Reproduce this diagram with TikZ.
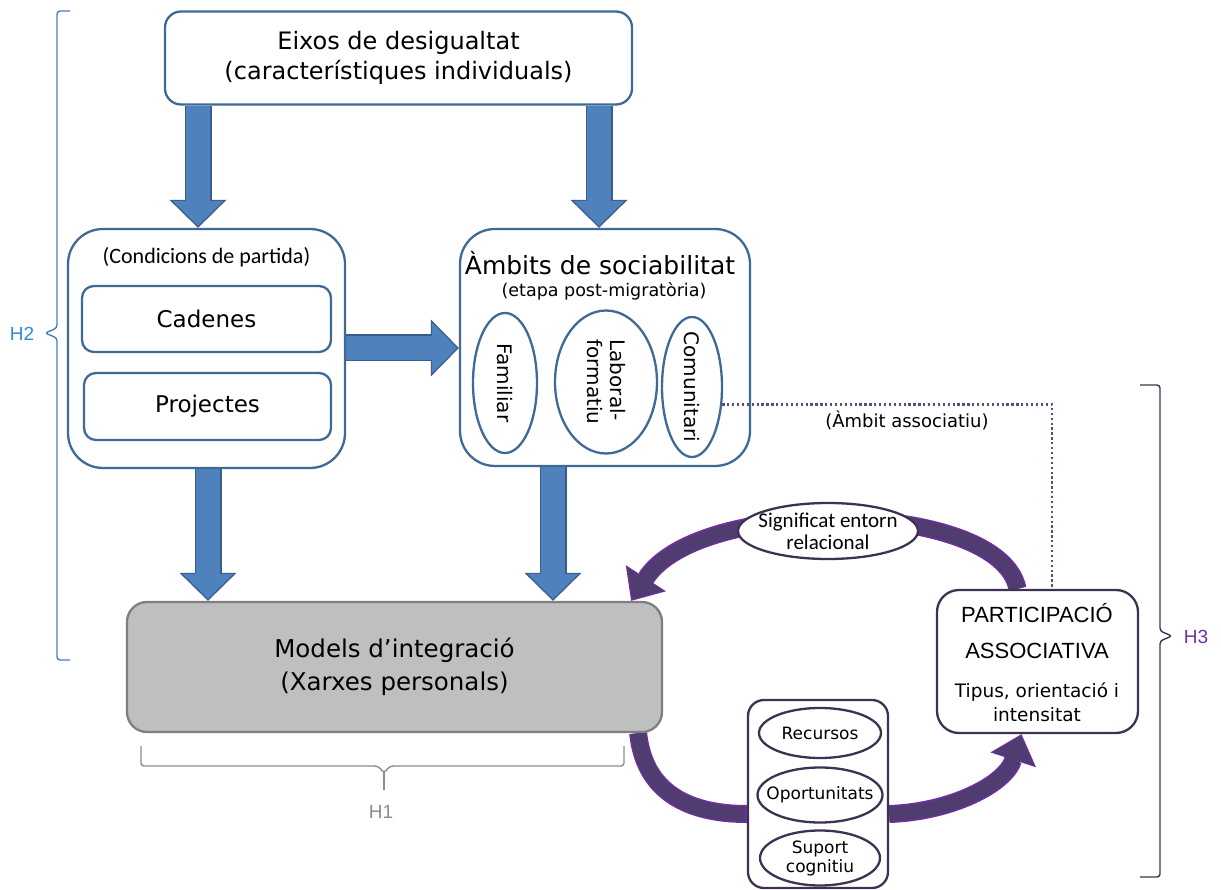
\documentclass[tikz,border=0pt]{standalone}
\usepackage{fontspec}
\setmainfont{DejaVu Sans}
\newfontfamily\calibri{Carlito}
\newfontfamily\arialfont{Liberation Sans}
\usetikzlibrary{positioning,shapes.geometric,arrows.meta,backgrounds}
\definecolor{boxblue}{RGB}{65,105,150}
\definecolor{arrowblue}{RGB}{79,129,189}
\definecolor{edgeblue}{RGB}{56,93,138}
\definecolor{boxgray}{RGB}{191,191,191}
\definecolor{edgegray}{RGB}{127,127,127}
\definecolor{darkpurple}{RGB}{63,49,81}
\definecolor{arrowpurple}{RGB}{80,60,112}
\definecolor{edgepurple}{RGB}{112,48,160}
\definecolor{dotpurple}{RGB}{96,74,123}
\definecolor{hblue}{RGB}{46,139,219}
\definecolor{hbraceblue}{RGB}{74,126,187}
\definecolor{hgray}{RGB}{140,140,140}
\newcommand{\fsize}[2]{\fontsize{#1}{#2}\selectfont}
\newcommand{\blockarrow}[2]{\draw[blockedge] #1 -- #2; \draw[blockfill] #1 -- #2;}

\begin{document}
\begin{tikzpicture}[x=1pt, y=-1pt, inner sep=0pt,
  bluebox/.style={draw=boxblue, line width=2.3pt, fill=white, rounded corners=#1},
  bluebox/.default=12pt,
  purplebox/.style={draw=darkpurple, line width=2.3pt, fill=white, rounded corners=#1},
  purplebox/.default=16pt,
  ambit/.style={ellipse, draw=boxblue, line width=2.3pt, rotate=-90, align=left, font=\fsize{20}{23}},
  resource/.style={ellipse, draw=darkpurple, line width=2.3pt, fill=white, align=center},
  blockedge/.style={draw=edgeblue, line width=27pt, -{Triangle[width=57pt,length=28pt,line width=0pt]}},
  blockfill/.style={draw=arrowblue, line width=24pt, -{Triangle[width=51pt,length=25pt,line width=0pt]}, shorten >=2pt},
  loopedge/.style={draw=edgepurple, line width=18pt, -{Triangle[width=48pt,length=27pt,line width=0pt]}},
  loopfill/.style={draw=arrowpurple, line width=15pt, -{Triangle[width=43pt,length=24pt,line width=0pt]}, shorten >=2pt},
  dotline/.style={draw=dotpurple, line width=2.3pt, dash pattern=on 2.3pt off 2.6pt},
  hbrace/.style={line width=1.4pt, rounded corners=3pt}]
  \useasboundingbox (0,0) rectangle (1221,890);

  % columns of the block arrows
  \coordinate (colA) at (198,0);
  \coordinate (colB) at (599,0);
  \coordinate (colC) at (208,0);
  \coordinate (colD) at (553,0);
  \coordinate (rowE) at (0,348);

  \node[bluebox=16pt, minimum width=467pt, minimum height=93pt, align=center, font=\fsize{24}{30}] (eixos) at (398.5,58) {Eixos de desigualtat\\(característiques individuals)};

  \node[bluebox=35pt, minimum width=277pt, minimum height=239pt] (cond) at (206.5,348.5) {};
  \node[font=\calibri\fsize{22}{26}] (condtxt) at (206.5,257) {(Condicions de partida)};
  \node[bluebox, minimum width=249pt, minimum height=66pt, font=\fsize{23}{28}] (cad) at (206.5,319) {Cadenes};
  \node[bluebox, minimum width=247pt, minimum height=67pt, font=\fsize{23}{28}] (proj) at (207.5,406.5) {Projectes};

  \node[bluebox=35pt, minimum width=290pt, minimum height=237pt] (amb) at (605,347.5) {};
  \node[font=\fsize{25}{30}] (ambtitle) at (600,263) {Àmbits de sociabilitat};
  \node[font=\fsize{17.5}{21}] (ambsub) at (604,291) {(etapa post-migratòria)};
  \node[ambit, minimum width=140pt, minimum height=64pt] (fam) at (505,383) {Familiar};
  \node[ambit, minimum width=143pt, minimum height=102pt] (lab) at (606,382) {Laboral-\\formatiu};
  \node[ambit, minimum width=140pt, minimum height=60pt, inner xsep=-7pt] (comu) at (692,387) {Comunitari};

  \node[draw=edgegray, fill=boxgray, line width=2.3pt, rounded corners=20pt, minimum width=535pt, minimum height=130pt, align=center, font=\fsize{24.5}{33}] (models) at (394.5,667) {Models d’integració\\(Xarxes personals)};

  \node[purplebox=22pt, minimum width=201pt, minimum height=143pt] (part) at (1037.5,661.5) {};
  \node[align=center, font=\arialfont\fsize{22}{36}] (parttitle) at (1037,631) {PARTICIPACIÓ\\ASSOCIATIVA};
  \node[align=center, font=\fsize{18.5}{24}] (parttype) at (1037,702) {Tipus, orientació i\\intensitat};

  \node[purplebox, minimum width=140pt, minimum height=188pt] (recbox) at (818,794) {};
  \node[resource, minimum width=122pt, minimum height=50pt, font=\fsize{17}{19}] (rec) at (820,733) {Recursos};
  \node[resource, minimum width=125pt, minimum height=55pt, inner xsep=-12pt, font=\fsize{17}{19}] (oport) at (820,795) {Oportunitats};
  \node[resource, minimum width=120pt, minimum height=55pt, font=\fsize{17}{19}] (suport) at (820,858) {Suport\\cognitiu};

  \node[resource, minimum width=180pt, minimum height=56pt, inner xsep=-7pt, inner ysep=-3pt, font=\calibri\fsize{21}{22}] (signif) at (828,531) {Significat entorn\\relacional};

  \begin{scope}[on background layer]
    \blockarrow{(colA |- eixos.south)}{(colA |- cond.north)}
    \blockarrow{(colB |- eixos.south)}{(colB |- amb.north)}
    \blockarrow{(cond.east |- rowE)}{(amb.west |- rowE)}
    \blockarrow{(colC |- cond.south)}{(colC |- models.north)}
    \blockarrow{(colD |- amb.south)}{(colD |- models.north)}

    % loop between the networks and the associations
    \draw[loopedge] ([xshift=-20pt]part.north) .. controls (1000,500) and (700,495) .. ([xshift=-32pt]models.north east);
    \draw[loopfill] ([xshift=-20pt]part.north) .. controls (1000,500) and (700,495) .. ([xshift=-32pt]models.north east);
    \draw[loopedge, -] ([xshift=-25pt]models.south east) .. controls (645,800) and (700,814) .. ([yshift=-20pt]recbox.west);
    \draw[loopfill, -] ([xshift=-25pt]models.south east) .. controls (645,800) and (700,814) .. ([yshift=-20pt]recbox.west);
    \draw[loopedge] ([yshift=-20pt]recbox.east) .. controls (950,812) and (1005,785) .. ([xshift=-16pt]part.south);
    \draw[loopfill] ([yshift=-20pt]recbox.east) .. controls (950,812) and (1005,785) .. ([xshift=-16pt]part.south);
  \end{scope}

  \draw[dotline] (comu.60) -| node[pos=0.28, below=5pt, font=\fsize{18}{21}] (assoc) {(Àmbit associatiu)} ([xshift=14.5pt]part.north);

  % hypotheses
  \draw[hbrace, draw=hbraceblue] (70,11) -- (57,11) -- (57,328) -- (45,333) -- (57,338) -- (57,660) -- (70,660);
  \node[text=hblue, font=\arialfont\fsize{19}{22}] (h2) at (22,334) {H2};
  \draw[hbrace, draw=darkpurple] (1140,385) -- (1160,385) -- (1160,631) -- (1172,636) -- (1160,641) -- (1160,877) -- (1140,877);
  \node[text=edgepurple, font=\arialfont\fsize{19}{22}] (h3) at (1196,637) {H3};
  \draw[hbrace, draw=hgray] (141,746) |- (378,766) -- (384,773) -- (390,766) -| (624,746);
  \draw[hbrace, draw=hgray] (384,772) -- (384,790);
  \node[text=hgray, font=\arialfont\fsize{19}{22}] (h1) at (381,812) {H1};
\end{tikzpicture}
\end{document}
